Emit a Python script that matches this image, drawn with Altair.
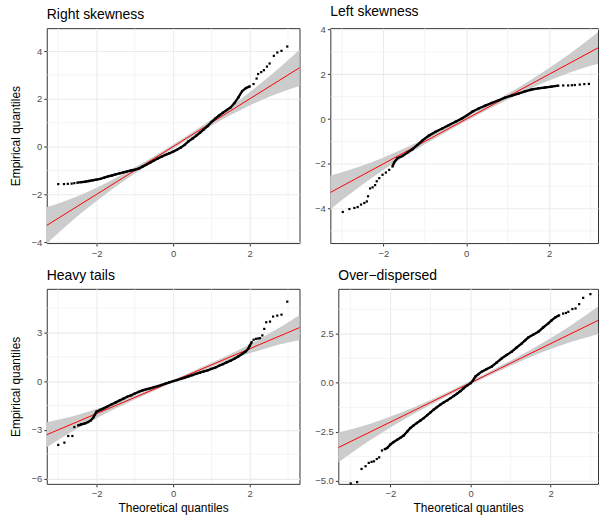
import altair as alt
import pandas as pd

FONT = "Liberation Sans"

# ---------------- data ----------------
titles = ["Right skewness", "Left skewness", "Heavy tails", "Over\u2212dispersed"]

p1_x = [-3.0, -2.85, -2.75, -2.65, -2.58, -2.5, -2.4, -2.3, -2.2, -2.1, -2.0, -1.9, -1.8,
        -1.7, -1.6, -1.5, -1.4, -1.3, -1.2, -1.1, -1.0, -0.9, -0.8, -0.7, -0.6, -0.5, -0.4,
        -0.3, -0.2, -0.1, 0.0, 0.1, 0.2, 0.3, 0.4, 0.5, 0.6, 0.7, 0.8, 0.9, 1.0, 1.1, 1.2,
        1.3, 1.4, 1.5, 1.6, 1.7, 1.8, 1.9, 2.0, 2.1, 2.18, 2.22, 2.3, 2.37, 2.45, 2.52, 2.63,
        2.72, 2.83, 2.98]
p1_y = [-1.57, -1.57, -1.56, -1.55, -1.53, -1.51, -1.49, -1.47, -1.44, -1.41, -1.38, -1.35,
        -1.30, -1.25, -1.21, -1.16, -1.12, -1.08, -1.04, -1.00, -0.97, -0.92, -0.84, -0.76,
        -0.67, -0.58, -0.50, -0.42, -0.35, -0.28, -0.21, -0.13, -0.04, 0.07, 0.22, 0.33, 0.45,
        0.58, 0.72, 0.86, 1.03, 1.17, 1.30, 1.42, 1.53, 1.64, 1.82, 2.05, 2.32, 2.45, 2.52,
        2.62, 2.85, 3.04, 3.12, 3.20, 3.35, 3.48, 3.80, 3.94, 4.01, 4.19]

p2_x = [-2.98, -2.82, -2.70, -2.62, -2.54, -2.46, -2.40, -2.37, -2.32, -2.26, -2.20, -2.16,
        -2.10, -2.02, -1.94, -1.86, -1.78, -1.74, -1.66, -1.54, -1.42, -1.30, -1.18, -1.06,
        -0.90, -0.74, -0.58, -0.42, -0.26, -0.10, 0.02, 0.15, 0.30, 0.46, 0.62, 0.78, 0.94,
        1.10, 1.26, 1.42, 1.58, 1.74, 1.90, 2.06, 2.22, 2.34, 2.46, 2.55, 2.62, 2.74, 2.85, 2.96]
p2_y = [-4.15, -4.02, -3.97, -3.93, -3.82, -3.75, -3.68, -3.45, -3.10, -3.05, -2.95, -2.78,
        -2.64, -2.49, -2.39, -2.27, -2.12, -1.94, -1.75, -1.65, -1.50, -1.35, -1.16, -0.96,
        -0.74, -0.57, -0.42, -0.27, -0.12, 0.03, 0.17, 0.33, 0.47, 0.60, 0.72, 0.84, 0.96,
        1.05, 1.14, 1.24, 1.32, 1.37, 1.41, 1.45, 1.49, 1.50, 1.50, 1.51, 1.52, 1.54, 1.56, 1.57]

p3_x = [-3.0, -2.84, -2.74, -2.63, -2.58, -2.48, -2.40, -2.30, -2.22, -2.15, -2.09, -2.04,
        -2.0, -1.9, -1.8, -1.7, -1.6, -1.5, -1.4, -1.3, -1.2, -1.1, -1.0, -0.9, -0.8, -0.7,
        -0.6, -0.5, -0.4, -0.3, -0.2, -0.1, 0.0, 0.1, 0.2, 0.3, 0.4, 0.5, 0.6, 0.7, 0.8, 0.9,
        1.0, 1.1, 1.2, 1.3, 1.4, 1.5, 1.6, 1.7, 1.8, 1.9, 1.96, 2.0, 2.05, 2.10, 2.16, 2.22,
        2.27, 2.33, 2.38, 2.43, 2.53, 2.61, 2.72, 2.83, 2.98]
p3_y = [-3.93, -3.79, -3.38, -3.38, -2.83, -2.73, -2.66, -2.60, -2.52, -2.42, -2.26, -2.05,
        -1.88, -1.77, -1.66, -1.54, -1.42, -1.31, -1.19, -1.08, -0.96, -0.87, -0.76, -0.66,
        -0.57, -0.50, -0.44, -0.37, -0.30, -0.23, -0.15, -0.07, 0.0, 0.07, 0.14, 0.21, 0.29,
        0.37, 0.45, 0.52, 0.60, 0.67, 0.76, 0.84, 0.95, 1.05, 1.16, 1.26, 1.38, 1.52, 1.68,
        1.84, 2.0, 2.18, 2.40, 2.55, 2.61, 2.63, 2.65, 2.82, 3.22, 3.63, 3.67, 3.98, 4.04,
        4.10, 4.90]

p4_x = [-2.99, -2.83, -2.72, -2.62, -2.54, -2.47, -2.41, -2.34, -2.28, -2.21, -2.14, -2.08,
        -2.0, -1.92, -1.83, -1.75, -1.67, -1.58, -1.50, -1.42, -1.34, -1.25, -1.17, -1.08,
        -1.00, -0.92, -0.84, -0.75, -0.67, -0.58, -0.50, -0.42, -0.34, -0.25, -0.17, -0.08,
        0.0, 0.06, 0.12, 0.20, 0.28, 0.40, 0.53, 0.65, 0.78, 0.90, 1.03, 1.15, 1.28, 1.36,
        1.44, 1.56, 1.69, 1.81, 1.94, 2.02, 2.11, 2.21, 2.31, 2.38, 2.44, 2.54, 2.62, 2.71,
        2.81, 2.99]
p4_y = [-5.13, -5.06, -4.39, -4.25, -4.08, -4.03, -4.0, -3.88, -3.80, -3.45, -3.38, -3.32,
        -3.14, -3.02, -2.90, -2.80, -2.69, -2.48, -2.30, -2.17, -2.05, -1.92, -1.80, -1.65,
        -1.51, -1.37, -1.24, -1.11, -1.00, -0.89, -0.78, -0.67, -0.56, -0.42, -0.27, -0.13,
        -0.02, 0.12, 0.32, 0.45, 0.57, 0.70, 0.83, 1.03, 1.25, 1.42, 1.59, 1.80, 2.01, 2.16,
        2.31, 2.45, 2.60, 2.82, 3.03, 3.18, 3.33, 3.44, 3.53, 3.56, 3.62, 3.76, 3.79, 4.01,
        4.33, 4.52]

# range of theoretical quantiles where the points merge into a solid run
dense_ranges = [[-2.55, 2.0], [-1.8, 2.3], [-2.5, 2.05], [-2.2, 2.3]]

# confidence band (same for every panel)
band_x = [-3.4, -3.0, -2.5, -2.0, -1.5, -1.0, -0.5, 0.0, 0.5, 1.0, 1.5, 2.0, 2.5, 3.0, 3.4]
band_lo = [-4.22, -3.62, -2.92, -2.28, -1.68, -1.13, -0.60, -0.09, 0.40, 0.87, 1.32, 1.72,
           2.08, 2.38, 2.58]
band_hi = [-2.58, -2.38, -2.08, -1.72, -1.32, -0.87, -0.40, 0.09, 0.60, 1.13, 1.68, 2.28,
           2.92, 3.62, 4.22]

# reference line y = x
ref_x = [-3.5, 3.5]
ref_y = [-3.5, 3.5]

x_major = [-2, 0, 2]
x_minor = [-3, -1, 1, 3]
y_major = [[-4, -2, 0, 2, 4], [-4, -2, 0, 2, 4], [-6, -3, 0, 3], [-5, -2.5, 0, 2.5]]
y_minor = [[-3, -1, 1, 3], [-5, -3, -1, 1, 3], [-4.5, -1.5, 1.5, 4.5],
           [-3.75, -1.25, 1.25, 3.75]]
x_domains = [[-3.3, 3.3], [-3.28, 3.18], [-3.3, 3.3], [-3.3, 3.18]]
y_domains = [[-4.04, 4.96], [-5.54, 4.06], [-6.33, 5.69], [-5.15, 4.79]]
y_formats = ["d", "d", "d", ".1f"]


def panel(i, qx, qy, w, h, ytitle, xtitle):
    pts = pd.DataFrame({"x": qx, "y": qy})
    band = pd.DataFrame({"x": band_x, "lo": band_lo, "hi": band_hi})
    ref = pd.DataFrame({"x": ref_x, "y": ref_y})
    xs = alt.Scale(domain=x_domains[i], nice=False, zero=False)
    ys = alt.Scale(domain=y_domains[i], nice=False, zero=False)
    xax = alt.Axis(values=x_major, title=xtitle, format="d")
    yax = alt.Axis(values=y_major[i], title=ytitle, format=y_formats[i])
    lo, hi = dense_ranges[i]

    xmin = alt.Chart(pd.DataFrame({"v": x_minor})).mark_rule(
        color="#EBEBEB", strokeWidth=0.55).encode(
        x=alt.X("v:Q", scale=xs, axis=xax))
    ymin = alt.Chart(pd.DataFrame({"v": y_minor[i]})).mark_rule(
        color="#EBEBEB", strokeWidth=0.55).encode(
        y=alt.Y("v:Q", scale=ys, axis=yax))
    area = alt.Chart(band).mark_area(
        color="#CCCCCC", opacity=1, clip=True, interpolate="monotone").encode(
        x=alt.X("x:Q", scale=xs, axis=xax),
        y=alt.Y("lo:Q", scale=ys, axis=yax),
        y2="hi:Q")
    line = alt.Chart(ref).mark_line(color="#FF0000", strokeWidth=1, clip=True).encode(
        x=alt.X("x:Q", scale=xs, axis=xax),
        y=alt.Y("y:Q", scale=ys, axis=yax))
    dense = alt.Chart(pts).transform_filter(
        (alt.datum.x >= lo) & (alt.datum.x <= hi)).mark_line(
        color="black", strokeWidth=2.4).encode(
        x=alt.X("x:Q", scale=xs, axis=xax),
        y=alt.Y("y:Q", scale=ys, axis=yax))
    dots = alt.Chart(pts).mark_square(size=5, color="black", opacity=1).encode(
        x=alt.X("x:Q", scale=xs, axis=xax),
        y=alt.Y("y:Q", scale=ys, axis=yax))
    return alt.layer(xmin, ymin, area, line, dense, dots).properties(
        width=w, height=h,
        title=alt.TitleParams(titles[i], anchor="start", frame="group",
                              baseline="alphabetic", offset=-5))


p1 = panel(0, p1_x, p1_y, 254, 216, "Empirical quantiles", None)
p2 = panel(1, p2_x, p2_y, 269, 216, None, None)
p3 = panel(2, p3_x, p3_y, 254, 196, "Empirical quantiles", "Theoretical quantiles")
p4 = panel(3, p4_x, p4_y, 261, 196, None, "Theoretical quantiles")

top = alt.hconcat(p1, p2, spacing=13)
bottom = alt.hconcat(p3, p4, spacing=13)

chart = alt.vconcat(top, bottom, spacing=10).properties(
    padding={"left": 8, "top": 2, "right": 0, "bottom": 0},
    background="white",
).configure_view(
    stroke="#333333", strokeWidth=1
).configure_axis(
    labelFont=FONT, labelFontSize=9.5, labelColor="#4D4D4D", labelPadding=2,
    labelFlush=False, labelOverlap=False,
    tickColor="#333333", tickSize=3, tickWidth=1,
    domain=False, gridColor="#EBEBEB", gridWidth=1.1,
    titleFont=FONT, titleFontSize=12, titleFontWeight="normal", titleColor="black",
    titlePadding=9,
).configure_axisX(
    titlePadding=4
).configure_title(
    font=FONT, fontSize=14, fontWeight="normal", color="black"
)

chart.save("out.html", embed_options={"renderer": "svg", "actions": False})
